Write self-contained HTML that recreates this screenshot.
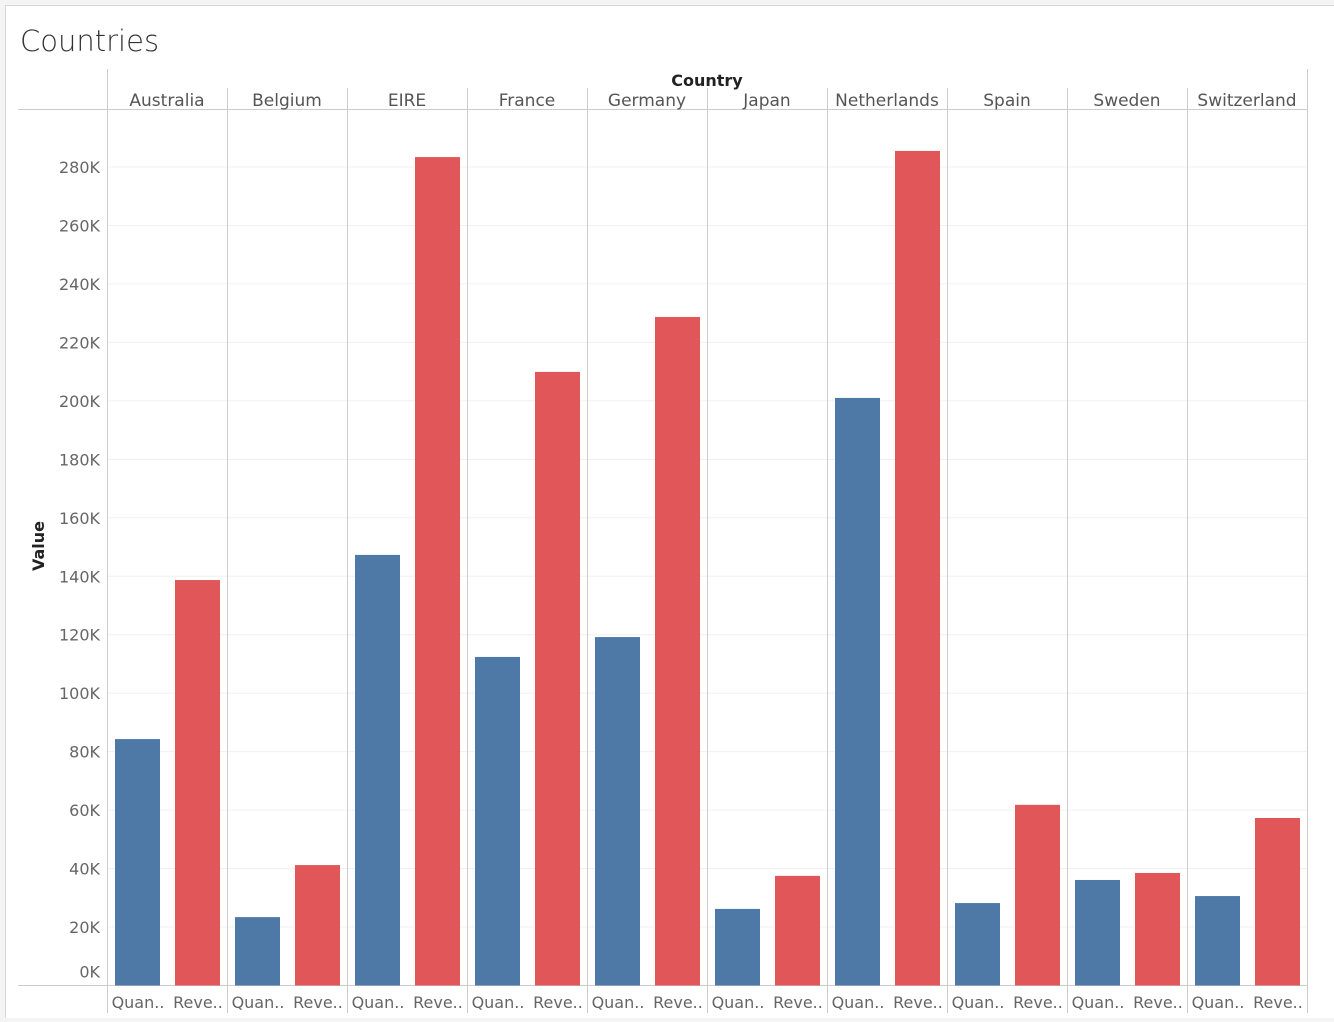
<!DOCTYPE html>
<html><head><meta charset="utf-8"><style>
html,body{margin:0;padding:0;background:#f4f4f4;}
#wrap{position:absolute;left:5px;top:5px;width:1329px;height:1012px;background:#fff;border-left:1px solid #d8d8d8;border-top:1px solid #d8d8d8;}
svg{position:absolute;left:0;top:0;font-family:"DejaVu Sans","Liberation Sans",sans-serif;}
</style></head><body>
<div id="wrap"></div>
<svg id="chart" width="1334" height="1022"></svg>
<script>
const countries=["Australia","Belgium","EIRE","France","Germany","Japan","Netherlands","Spain","Sweden","Switzerland"];
const quantity=[84.3,23.4,147.3,112.4,119.2,26.2,201,28.2,36.1,30.6];
const revenue=[138.7,41.2,283.4,209.9,228.7,37.5,285.5,61.8,38.5,57.3];
const ticks=[0,20,40,60,80,100,120,140,160,180,200,220,240,260,280];
const NS="http://www.w3.org/2000/svg";
const svg=document.getElementById('chart');
function mk(t,a,p){const e=document.createElementNS(NS,t);for(const k in a)e.setAttribute(k,a[k]);(p||svg).appendChild(e);return e;}
const x0=107,colW=120,y0=985.5,yTop=167,maxT=280;
const y=v=>y0-(v/maxT)*(y0-yTop);
const colX=i=>x0+i*colW;
// title
let t=mk('text',{x:20,y:51,'font-size':29,fill:'#333','font-weight':300,'font-family':'"DejaVu Sans","Liberation Sans",sans-serif'});t.textContent='Countries';

t=mk('text',{x:707,y:86,'font-size':16,fill:'#222','font-weight':'bold','text-anchor':'middle'});t.textContent='Country';

t=mk('text',{x:44,y:546,'font-size':16,fill:'#222','font-weight':'bold','text-anchor':'middle',transform:'rotate(-90 44 546)'});t.textContent='Value';

// gridlines and ticks
ticks.forEach(v=>{
  const g=mk('line',{x1:x0,x2:1307,y1:y(v),y2:y(v),stroke:'#f0f0f0'});
  
  const l=mk('text',{x:100,y:(v===0?y(v)-8:y(v)+6),'font-size':16,fill:'#666','text-anchor':'end'});l.textContent=v+'K';
  
});
// header lines
mk('line',{x1:18,x2:1307,y1:109.5,y2:109.5,stroke:'#ccc'});
mk('line',{x1:18,x2:1307,y1:985.5,y2:985.5,stroke:'#ccc'});
mk('line',{x1:107.5,x2:107.5,y1:69,y2:1013,stroke:'#ccc'});
mk('line',{x1:1307.5,x2:1307.5,y1:69,y2:1013,stroke:'#ccc'});
countries.forEach((c,i)=>{
  const cx=colX(i);
  if(i>0){const s=mk('line',{x1:cx+0.5,x2:cx+0.5,y1:88,y2:1013,stroke:'#ccc'});}
  const h=mk('text',{x:cx+60,y:106,'font-size':17,fill:'#555','text-anchor':'middle'});h.textContent=c;
  
  const bq=mk('rect',{x:cx+8,y:y(quantity[i]),width:45,height:y0-y(quantity[i]),fill:'#4e79a7'});
  
  const br=mk('rect',{x:cx+68,y:y(revenue[i]),width:45,height:y0-y(revenue[i]),fill:'#e15759'});
  
  const lq=mk('text',{x:cx+31,y:1008,'font-size':16,fill:'#666','text-anchor':'middle'});lq.textContent='Quan..';
  
  const lr=mk('text',{x:cx+91,y:1008,'font-size':16,fill:'#666','text-anchor':'middle'});lr.textContent='Reve..';
  
});
</script>
</body></html>
